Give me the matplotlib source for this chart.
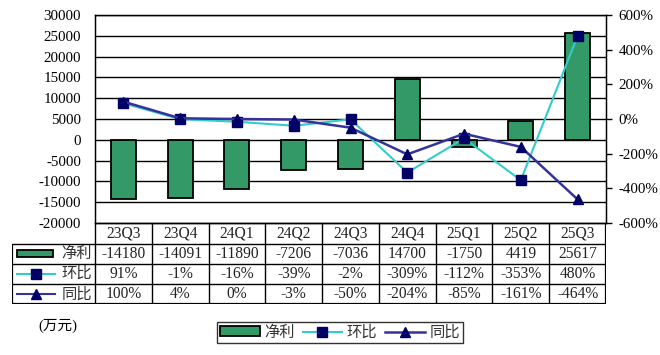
import numpy as np
import matplotlib
matplotlib.use("Agg")
import matplotlib.pyplot as plt
from matplotlib.patches import Rectangle, Patch
from matplotlib.lines import Line2D

plt.rcParams['font.family'] = ['Liberation Serif', 'Noto Sans CJK SC']
plt.rcParams['axes.unicode_minus'] = False

quarters = ['23Q3', '23Q4', '24Q1', '24Q2', '24Q3', '24Q4', '25Q1', '25Q2', '25Q3']
profit = [-14180, -14091, -11890, -7206, -7036, 14700, -1750, 4419, 25617]
qoq = [91, -1, -16, -39, -2, -309, -112, -353, 480]
yoy = [100, 4, 0, -3, -50, -204, -85, -161, -464]
series_names = ['净利', '环比', '同比']
left_ticks = list(range(-20000, 30001, 5000))
right_ticks = list(range(-600, 601, 200))

green = '#339966'
cyan = '#33CCCC'
navy = '#000066'
navy_line = '#333399'

W, H = 660, 355
fig = plt.figure(figsize=(6.6, 3.55), dpi=100)

# main plot area (pixel box of the reference)
x0, x1, y_top, y_bot = 95, 606, 15, 223
ax = fig.add_axes([x0 / W, 1 - y_bot / H, (x1 - x0) / W, (y_bot - y_top) / H])
ax2 = ax.twinx()

x = np.arange(len(quarters))
ax.bar(x, profit, width=0.44, color=green, edgecolor='black', linewidth=1.3, zorder=3)
ax.set_xlim(-0.5, len(quarters) - 0.5)
ax.set_ylim(-20000, 30000)
ax.set_yticks(left_ticks, labels=[str(t) for t in left_ticks])
ax.yaxis.grid(True, color='black', linewidth=1.0)
ax.set_axisbelow(True)
ax.set_xticks([])
ax.tick_params(axis='y', length=0, pad=10, labelsize=10.8)
for s in ['left', 'top', 'right', 'bottom']:
    ax.spines[s].set_linewidth(1.0)

ax2.plot(x, qoq, color=cyan, linewidth=1.5, marker='s', markersize=6.5,
         markerfacecolor=navy, markeredgecolor=navy, zorder=4)
ax2.plot(x, yoy, color=navy_line, linewidth=1.8, marker='^', markersize=7.5,
         markerfacecolor=navy, markeredgecolor=navy, zorder=5)
ax2.set_ylim(-600, 600)
ax2.set_yticks(right_ticks, labels=[f'{t}%' for t in right_ticks])
ax2.tick_params(axis='y', length=4, width=1.0, pad=5, labelsize=10.8)

# data table under the chart
cat_px = (x1 - x0) / len(quarters)
lab_w = (x0 - 12) / cat_px
tab_bot = 304
tax = fig.add_axes([12 / W, 1 - tab_bot / H, (x1 - 12) / W, (tab_bot - y_bot) / H])
tax.set_xlim(-0.5 - lab_w, len(quarters) - 0.5)
tax.set_ylim(tab_bot - y_bot, 0)
tax.axis('off')
rows = [0, 21, 40.5, 60.5, 81]
xl = -0.5 - lab_w
xr = len(quarters) - 0.5
# horizontal lines
tax.hlines(rows[1:4], xl, xr, color='black', linewidth=1.0)
tax.hlines([rows[0]], -0.5, xr, color='black', linewidth=1.0)
tax.hlines([rows[4]], xl, xr, color='black', linewidth=1.6)
# vertical lines
tax.vlines(np.arange(len(quarters) + 1) - 0.5, rows[0], rows[4], color='black', linewidth=1.0)
tax.vlines([xr], rows[0], rows[4], color='black', linewidth=1.6)
tax.vlines([xl], rows[1], rows[4], color='black', linewidth=1.6)

cell_text = [quarters,
             [str(v) for v in profit],
             [f'{v}%' for v in qoq],
             [f'{v}%' for v in yoy]]
for r, texts in enumerate(cell_text):
    yc = (rows[r] + rows[r + 1]) / 2
    for i, t in enumerate(texts):
        tax.text(i, yc, t, ha='center', va='center', fontsize=11.2, color='#222222')

# row labels with legend keys
px = 1 / cat_px
for r, name in enumerate(series_names):
    yc = (rows[r + 1] + rows[r + 2]) / 2
    tax.text(xl + 80 * px, yc + 0.5, name, ha='right', va='center', fontsize=11, color='#333333')
    if r == 0:
        tax.add_patch(Rectangle((xl + 5 * px, yc - 3.5), 36 * px, 7, facecolor=green,
                                edgecolor='black', linewidth=1.3))
    else:
        col = cyan if r == 1 else navy_line
        mk = 's' if r == 1 else '^'
        tax.plot([xl + 5 * px, xl + 43 * px], [yc, yc], color=col, linewidth=1.5)
        tax.plot([xl + 24 * px], [yc], marker=mk, markersize=6.5, color=navy)

# legend at bottom
handles = [Patch(facecolor=green, edgecolor='black', linewidth=1.3),
           Line2D([], [], color=cyan, linewidth=1.5, marker='s', markersize=6.5,
                  markerfacecolor=navy, markeredgecolor=navy),
           Line2D([], [], color=navy_line, linewidth=1.8, marker='^', markersize=7,
                  markerfacecolor=navy, markeredgecolor=navy)]
leg = fig.legend(handles, series_names, loc='center', bbox_to_anchor=(340 / W, 1 - 332.5 / H),
                 ncol=3, frameon=True, fancybox=False, edgecolor='black', fontsize=11,
                 handlelength=2.6, handleheight=0.6, handletextpad=0.3, columnspacing=0.5,
                 borderpad=0.2, borderaxespad=0)
leg.get_frame().set_linewidth(1.0)
for t in leg.get_texts():
    t.set_color('#333333')

fig.text(38 / W, 1 - 326 / H, '(万元)', ha='left', va='center', fontsize=10.5)

fig.savefig('out.png', dpi=100)
